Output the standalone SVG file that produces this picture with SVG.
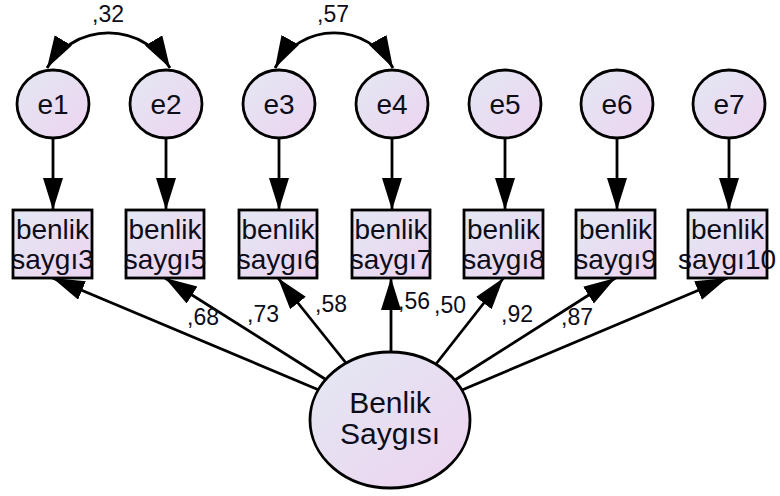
<svg xmlns="http://www.w3.org/2000/svg" width="780" height="496" viewBox="0 0 780 496">
<style>
.n{stroke:#000;stroke-width:2.8;fill:url(#g)}
.t{font-family:"Liberation Sans",Arial,sans-serif;fill:#0d0d1a;text-anchor:middle}
.bt{font-size:28px}
.ct{font-size:28px}
.et{font-size:30px}
.lb{font-family:"Liberation Sans",Arial,sans-serif;font-size:23px;fill:#0d0d1a}
.c{stroke:#000;stroke-width:2.8;fill:none}
.a{marker-end:url(#ah)}
.cv{marker-start:url(#ah);marker-end:url(#ah)}
</style>
<defs>
<linearGradient id="g" x1="0" y1="0" x2="1" y2="1">
<stop offset="0" stop-color="#e3e8f3"/>
<stop offset="1" stop-color="#edd3f0"/>
</linearGradient>
<marker id="ah" markerUnits="userSpaceOnUse" markerWidth="34" markerHeight="22" refX="32" refY="10" orient="auto-start-reverse" viewBox="0 0 34 22">
<path d="M0,0 L32,10 L0,20 z" fill="#000"/>
</marker>
</defs>
<g id="connectors">
<path class="c cv" d="M47,68 A71.5,71.5 0 0 1 170,68"/>
<path class="c cv" d="M275,68 A67.2,67.2 0 0 1 393,68"/>
<line class="c a" x1="53" y1="138" x2="53" y2="210"/>
<line class="c a" x1="166" y1="138" x2="166" y2="210"/>
<line class="c a" x1="279" y1="138" x2="279" y2="210"/>
<line class="c a" x1="392" y1="138" x2="392" y2="210"/>
<line class="c a" x1="505" y1="138" x2="505" y2="210"/>
<line class="c a" x1="617" y1="138" x2="617" y2="210"/>
<line class="c a" x1="729" y1="138" x2="729" y2="210"/>
<line class="c a" x1="318.3" y1="389.8" x2="52.5" y2="278"/>
<line class="c a" x1="325.8" y1="379.5" x2="165" y2="278"/>
<line class="c a" x1="346" y1="363" x2="278" y2="278"/>
<line class="c a" x1="391" y1="352" x2="391" y2="278"/>
<line class="c a" x1="436" y1="364" x2="503.5" y2="278"/>
<line class="c a" x1="455" y1="380" x2="615.5" y2="278"/>
<line class="c a" x1="462" y1="390" x2="727.5" y2="278"/>
</g>
<g id="e1"><ellipse class="n" cx="53" cy="104" rx="36" ry="34"/><text class="t ct" x="53" y="114">e1</text></g>
<g id="e2"><ellipse class="n" cx="166" cy="104" rx="36" ry="34"/><text class="t ct" x="166" y="114">e2</text></g>
<g id="e3"><ellipse class="n" cx="279" cy="104" rx="36" ry="34"/><text class="t ct" x="279" y="114">e3</text></g>
<g id="e4"><ellipse class="n" cx="392" cy="104" rx="36" ry="34"/><text class="t ct" x="392" y="114">e4</text></g>
<g id="e5"><ellipse class="n" cx="505" cy="104" rx="36" ry="34"/><text class="t ct" x="505" y="114">e5</text></g>
<g id="e6"><ellipse class="n" cx="617" cy="104" rx="36" ry="34"/><text class="t ct" x="617" y="114">e6</text></g>
<g id="e7"><ellipse class="n" cx="729" cy="104" rx="36" ry="34"/><text class="t ct" x="729" y="114">e7</text></g>
<g id="benlik3"><rect class="n" x="13" y="210" width="79" height="68"/><text class="t bt" x="52.5" y="239">benlik</text><text class="t bt" x="52.5" y="269">saygı3</text></g>
<g id="benlik5"><rect class="n" x="126" y="210" width="78" height="68"/><text class="t bt" x="165" y="239">benlik</text><text class="t bt" x="165" y="269">saygı5</text></g>
<g id="benlik6"><rect class="n" x="239" y="210" width="78" height="68"/><text class="t bt" x="278" y="239">benlik</text><text class="t bt" x="278" y="269">saygı6</text></g>
<g id="benlik7"><rect class="n" x="352" y="210" width="78" height="68"/><text class="t bt" x="391" y="239">benlik</text><text class="t bt" x="391" y="269">saygı7</text></g>
<g id="benlik8"><rect class="n" x="464" y="210" width="79" height="68"/><text class="t bt" x="503.5" y="239">benlik</text><text class="t bt" x="503.5" y="269">saygı8</text></g>
<g id="benlik9"><rect class="n" x="576" y="210" width="79" height="68"/><text class="t bt" x="615.5" y="239">benlik</text><text class="t bt" x="615.5" y="269">saygı9</text></g>
<g id="benlik10"><rect class="n" x="688" y="210" width="79" height="68"/><text class="t bt" x="727.5" y="239">benlik</text><text class="t bt" x="727" y="269">saygı10</text></g>
<g id="benlikSaygisi"><ellipse class="n" cx="390" cy="420" rx="80" ry="68"/><text class="t et" x="390" y="413">Benlik</text><text class="t et" x="390" y="444">Saygısı</text></g>
<g id="labels">
<text class="lb" x="92" y="22">,32</text>
<text class="lb" x="317" y="22">,57</text>
<text class="lb" x="187" y="325">,68</text>
<text class="lb" x="247" y="322">,73</text>
<text class="lb" x="315" y="312">,58</text>
<text class="lb" x="398" y="309">,56</text>
<text class="lb" x="434" y="313">,50</text>
<text class="lb" x="501" y="322">,92</text>
<text class="lb" x="561" y="325">,87</text>
</g>
</svg>
